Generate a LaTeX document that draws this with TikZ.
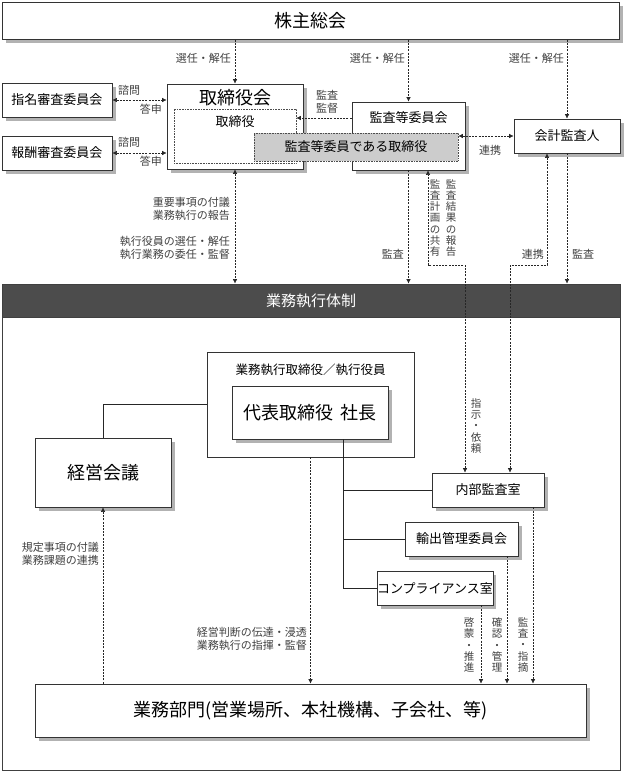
\documentclass[tikz,border=0pt]{standalone}
\usepackage{fontspec}
\setmainfont{Noto Sans CJK JP}
\usetikzlibrary{arrows.meta, shadows, calc}
\tikzset{box/.style={draw=black!80, fill=white, line width=0.7pt, inner sep=0pt,
    drop shadow={shadow xshift=3.5pt, shadow yshift=-3.5pt, fill=black!30, opacity=1}},
plainbox/.style={draw=black!80, fill=white, line width=0.7pt, inner sep=0pt},
dotbox/.style={draw=black!70, densely dotted, line width=0.6pt, inner sep=0pt},
big/.style={font=\fontsize{18}{20}\selectfont},
mid/.style={font=\fontsize{13}{15}\selectfont},
lbl/.style={font=\fontsize{11}{13}\selectfont, text=black!75, inner sep=1pt},
tate/.style={font=\fontsize{10.5}{11.3}\selectfont, text=black!75, align=center, inner sep=0pt},
link/.style={draw=black!85, line width=0.6pt, dash pattern=on 2pt off 1.2pt},
tie/.style={draw=black!85, line width=0.6pt}}

\begin{document}
\begin{tikzpicture}[x=1pt, y=-1pt, >={Latex[length=4.5pt,width=4.5pt]}]
\useasboundingbox (0,0) rectangle (624,772);
% upper part
\node[box, big, minimum width=617pt, minimum height=37pt] (gm) at (310.5,21) {株主総会};
\node[box, mid, minimum width=110pt, minimum height=34pt] (nom) at (57,100) {指名審査委員会};
\node[box, mid, minimum width=110pt, minimum height=34pt] (rem) at (57,153) {報酬審査委員会};
\node[box, minimum width=136pt, minimum height=85pt] (board) at (235,126.5) {};
\node[big] (boardttl) at (235,98) {取締役会};
\node[box, minimum width=113pt, minimum height=68pt] (ac) at (408.5,136) {};
\node[mid] (acttl) at (408.5,118) {監査等委員会};
\node[dotbox, minimum width=122pt, minimum height=54pt] (dir) at (235,136) {};
\node[mid] (dirttl) at (235,122) {取締役};
\node[dotbox, fill=black!20, mid, minimum width=204pt, minimum height=28pt] (acdir) at (356,147) {監査等委員である取締役};
\node[box, mid, minimum width=106pt, minimum height=34pt] (auditor) at (567,136) {会計監査人};

% execution frame
\draw[draw=black!75, line width=0.8pt] (2,284) rectangle (620,770);
\node[draw=black!75, fill=black!70, text=white, font=\fontsize{15}{17}\selectfont, line width=0.8pt,
    minimum width=618pt, minimum height=33pt, inner sep=0pt] (hdr) at (311,300.5) {業務執行体制};
\node[plainbox, minimum width=207pt, minimum height=105pt] (exec) at (310.5,404.5) {};
\node[font=\fontsize{12.5}{14}\selectfont] (execttl) at (310.5,370) {業務執行取締役／執行役員};
\node[box, big, minimum width=156pt, minimum height=53pt] (pres) at (310,412.5) {代表取締役\,\ 社長};
\node[box, big, minimum width=136pt, minimum height=69pt] (mgmt) at (103,472.5) {経営会議};
\node[box, mid, minimum width=112pt, minimum height=34pt] (ia) at (488,490) {内部監査室};
\node[box, mid, minimum width=113pt, minimum height=34pt] (exp) at (461.5,539) {輸出管理委員会};
\node[box, mid, minimum width=114pt, minimum height=34pt] (comp) at (435,588) {コンプライアンス室};
\node[box, big, minimum width=551pt, minimum height=53pt] (ops) at (310.5,710.5) {業務部門(営業場所、本社機構、子会社、等)};

% connectors, upper part
\draw[link,->] (board.north |- gm.south) -- (board.north);
\draw[link,->] (ac.north |- gm.south) -- (ac.north);
\draw[link,->] (auditor.north |- gm.south) -- (auditor.north);
\draw[link,<->] (nom.east) -- (nom.east -| board.west);
\draw[link,<->] (rem.east) -- (rem.east -| board.west);
\draw[link,->] (ac.west |- acttl) -- (dir.east |- acttl);
\draw[link,<->] (acdir.east |- auditor.west) -- (auditor.west);
\draw[link,<->] (board.south) -- (board.south |- hdr.north);
\draw[link,->] (ac.south) -- (ac.south |- hdr.north);
\draw[link,->] (auditor.south) -- (auditor.south |- hdr.north);
\draw[link,<->] ([xshift=-23pt]ia.north) |- ([xshift=19.5pt, yshift=-95pt]ac.south) -- ([xshift=19.5pt]ac.south);
\draw[link,<->] ([xshift=22pt]ia.north) |- ([xshift=-20pt, yshift=-112pt]auditor.south) -- ([xshift=-20pt]auditor.south);

% connectors, lower part
\coordinate (trunk) at ([xshift=33pt]pres.south);
\draw[tie] (mgmt.north) |- (exec.west);
\draw[tie] (trunk) |- (ia.west);
\draw[tie] (trunk) |- (exp.west);
\draw[tie] (trunk) |- (comp.west);
\draw[link,->] (exec.south) -- (exec.south |- ops.north);
\draw[link,->] (mgmt.south |- ops.north) -- (mgmt.south);
\draw[link,->] ([xshift=46pt]comp.south) -- ([xshift=46pt]comp.south |- ops.north);
\draw[link,->] ([xshift=45.5pt]exp.south) -- ([xshift=45.5pt]exp.south |- ops.north);
\draw[link,->] ([xshift=45pt]ia.south) -- ([xshift=45pt]ia.south |- ops.north);

% labels
\node[lbl, anchor=east] (l1) at (232,58) {選任・解任};
\node[lbl, anchor=east] (l2) at (406,58) {選任・解任};
\node[lbl, anchor=east] (l3) at (565,58) {選任・解任};
\node[lbl, anchor=west] (l4) at (117,90) {諮問};
\node[lbl, anchor=east] (l5) at (163,109) {答申};
\node[lbl, anchor=west] (l6) at (117,142) {諮問};
\node[lbl, anchor=east] (l7) at (163,161) {答申};
\node[lbl, align=center] (l8) at (327,101.5) {監査\\監督};
\node[lbl] (l9) at (490,150) {連携};
\node[lbl, anchor=east, align=right] (l10) at (231,208.5) {重要事項の付議\\業務執行の報告};
\node[lbl, anchor=east, align=right] (l11) at (231,247.5) {執行役員の選任・解任\\執行業務の委任・監督};
\node[lbl, anchor=east] (l12) at (405,254) {監査};
\node[tate] (l13) at (451,218) {監\\査\\結\\果\\の\\報\\告};
\node[tate] (l14) at (435,218) {監\\査\\計\\画\\の\\共\\有};
\node[lbl, anchor=east] (l15) at (545,254) {連携};
\node[lbl, anchor=west] (l16) at (571,254) {監査};
\node[tate] (l17) at (476,426) {指\\示\\・\\依\\頼};
\node[lbl, anchor=east, align=right] (l18) at (100,553.5) {規定事項の付議\\業務課題の連携};
\node[lbl, anchor=east, align=right] (l19) at (308,638.5) {経営判断の伝達・浸透\\業務執行の指揮・監督};
\node[tate] (l20) at (469,645) {啓\\蒙\\・\\推\\進};
\node[tate] (l21) at (497,645) {確\\認\\・\\管\\理};
\node[tate] (l22) at (523,645) {監\\査\\・\\指\\摘};
\end{tikzpicture}
\end{document}
